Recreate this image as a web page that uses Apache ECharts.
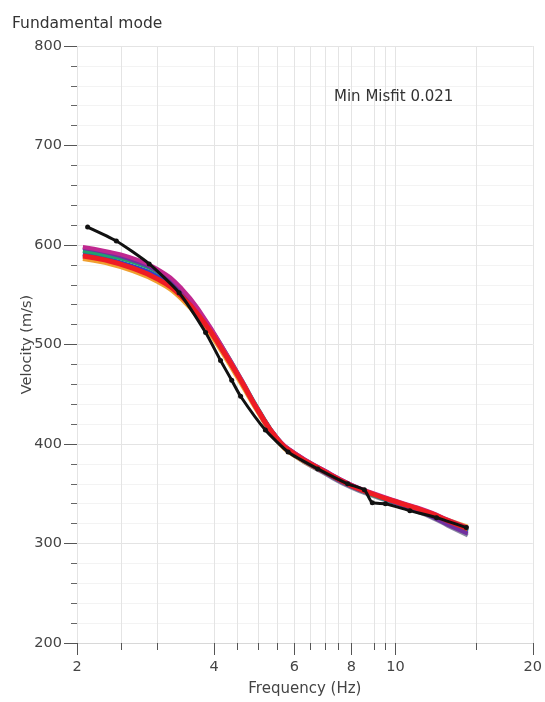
<!DOCTYPE html>
<html>
<head>
<meta charset="utf-8">
<script src="https://cdn.jsdelivr.net/npm/echarts@6/dist/echarts.min.js"></script>
<style>
html,body{margin:0;padding:0;background:#fff;}
#chart{width:545px;height:702px;}
</style>
</head>
<body>
<div id="chart"></div>
<script>
// ---- data ----
const xTickValues = [2, 2.5, 3, 4, 4.5, 5, 5.5, 6, 6.5, 7, 7.5, 8, 9, 9.5, 10, 15, 20];
const xLabelValues = [2, 4, 6, 8, 10, 20];
const yTicks = [200, 300, 400, 500, 600, 700, 800];

const obsFreq = [2.11, 2.44, 2.88, 3.35, 3.83, 4.13, 4.37, 4.57, 5.18, 5.81, 6.75, 7.85, 8.54, 8.89, 9.5, 10.75, 12.3, 14.3];
const obsVel  = [618, 604, 581, 552, 512, 484, 464, 448, 414, 392, 375, 360, 354, 341, 340, 333, 326, 316];

const modFreq = [2.06, 2.3, 2.6, 3.0, 3.4, 3.8, 4.2, 4.6, 5.0, 5.5, 6.0, 7.0, 8.0, 9.0, 10.0, 11.0, 12.0, 13.0, 14.4];
const modGray    = [590, 586, 579, 567, 548, 521, 491, 461, 432, 404, 388, 370, 356, 347, 340, 333, 326, 318, 308];
const modOrange  = [586, 582, 575, 563, 545, 519, 489, 459, 431, 403, 388, 371, 357, 348, 342, 336, 330, 324, 317];
const modBlue    = [591, 587, 580, 569, 550, 523, 492, 462, 433, 404, 389, 371, 357, 348, 341, 335, 329, 322, 312];
const modGreen   = [594, 590, 584, 573, 553, 525, 495, 464, 435, 406, 390, 372, 358, 348, 341, 335, 329, 322, 313];
const modPurple  = [597, 593, 586, 574, 554, 526, 494, 463, 434, 406, 391, 373, 359, 349, 341, 334, 327, 319, 310];
const modMagenta = [598, 594, 588, 576, 556, 527, 495, 464, 434, 406, 391, 373, 359, 350, 343, 337, 331, 324, 316];
const modRed     = [589, 585, 578, 566, 548, 522, 492, 462, 433, 405, 390, 372, 358, 349, 342, 336, 330, 323, 315];

function pairs(xs, ys){ return xs.map((x,i)=>[x, ys[i]]); }

const FONT = 'DejaVu Sans';
const chart = echarts.init(document.getElementById('chart'), null, {renderer:'canvas'});

function modelSeries(name, vals, color, width){
  return {
    name, type:'line', data: pairs(modFreq, vals), smooth:true, showSymbol:false,
    lineStyle:{color, width}, xAxisIndex:0, yAxisIndex:0, silent:true, z:2
  };
}

chart.setOption({
  animation:false,
  backgroundColor:'#fff',
  title:[
    {text:'Fundamental mode', left:7, top:11, textStyle:{fontFamily:FONT, fontSize:15.5, fontWeight:'normal', color:'#333'}},
    {text:'Min Misfit 0.021', left:329, top:85, textStyle:{fontFamily:FONT, fontSize:15, fontWeight:'normal', color:'#333'}}
  ],
  grid:{left:77, right:8, top:46, bottom:59, containLabel:false},
  xAxis:[{
    type:'log', logBase:10, min:2, max:20,
    name:'Frequency (Hz)', nameLocation:'middle', nameGap:39,
    nameTextStyle:{fontFamily:FONT, fontSize:15, color:'#444'},
    axisLine:{show:true, onZero:false, lineStyle:{color:'#d8d8d8', width:1}},
    axisTick:{show:true, inside:false, length:7, customValues:xTickValues, lineStyle:{color:'#555'}},
    axisLabel:{show:true, customValues:xLabelValues, margin:17, fontFamily:FONT, fontSize:14.5, color:'#444',
      formatter:(v)=>String(Math.round(v*10)/10)},
    splitLine:{show:true, lineStyle:{color:'#e4e4e4', width:1}},
    minorTick:{show:false}, minorSplitLine:{show:false}
  },{
    type:'log', logBase:10, min:2, max:20, position:'bottom',
    axisLine:{show:false},
    axisTick:{show:true, inside:false, length:12, customValues:xLabelValues, lineStyle:{color:'#555'}},
    axisLabel:{show:false},
    splitLine:{show:false}
  }],
  yAxis:{
    type:'value', min:200, max:800, interval:100,
    name:'Velocity (m/s)', nameLocation:'middle', nameGap:42, nameRotate:90, nameMoveOverlap:false,
    nameTextStyle:{fontFamily:FONT, fontSize:14.5, color:'#444'},
    axisLine:{show:false},
    axisTick:{show:true, inside:false, length:13, lineStyle:{color:'#555'}},
    minorTick:{show:true, splitNumber:5, length:6, lineStyle:{color:'#666'}},
    axisLabel:{show:true, margin:15, fontFamily:FONT, fontSize:14.5, color:'#444',
      customValues:yTicks},
    splitLine:{show:true, lineStyle:{color:'#e4e4e4'}},
    minorSplitLine:{show:true, lineStyle:{color:'#f3f3f3'}}
  },
  series:[
    modelSeries('gray', modGray, '#8a8aa0', 4),
    modelSeries('orange', modOrange, '#f0a030', 4),
    modelSeries('blue', modBlue, '#3040c8', 4),
    modelSeries('green', modGreen, '#20a070', 4),
    modelSeries('purple', modPurple, '#7030a0', 4),
    modelSeries('magenta', modMagenta, '#c02890', 4),
    modelSeries('red', modRed, '#ee1c24', 5),
    {
      name:'observed', type:'line', data: pairs(obsFreq, obsVel), smooth:0.2,
      symbol:'circle', symbolSize:5, showSymbol:true,
      itemStyle:{color:'#111'}, lineStyle:{color:'#111', width:3}, z:5, silent:true
    }
  ]
});
</script>
</body>
</html>
